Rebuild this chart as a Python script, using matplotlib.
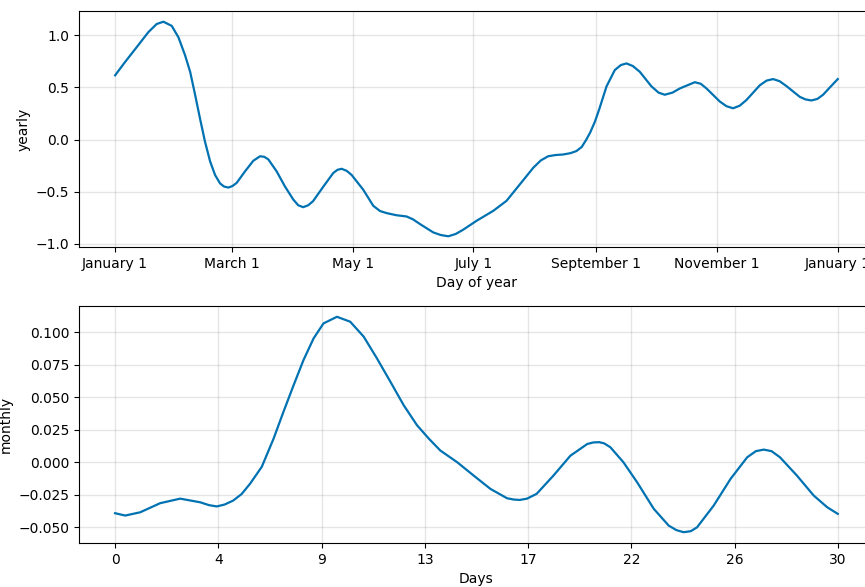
import numpy as np
import pandas as pd
import matplotlib
matplotlib.use('Agg')
import matplotlib.pyplot as plt
from matplotlib.dates import MonthLocator, num2date
from matplotlib.ticker import FuncFormatter


# yearly seasonality: day offset from 2017-01-01, component value
yearly_day = [0, 5, 10.9, 16.8, 21, 24.4, 28.6, 32, 35.3, 37.9, 40.4, 42.9,
              45.4, 48, 50.5, 53, 55, 57.2, 59.3, 61.4, 65.6, 69.8, 73.2,
              75.3, 77.4, 81.6, 85.8, 90, 92.5, 95, 97.5, 100, 105.2, 110.2,
              112.3, 114.4, 117, 119.5, 125.3, 130.4, 133.8, 137.2, 142,
              147.2, 150.5, 154, 160.7, 164.5, 168.3, 172, 175.8, 182.6, 191,
              197.7, 204.4, 211.2, 215, 218.7, 222.5, 226.3, 230, 233, 235.7,
              238, 240, 242.3, 244.5, 248.2, 252.4, 255.5, 258.3, 261.5, 265,
              270.9, 274.5, 277.6, 281.5, 285.2, 292.8, 295.8, 298.7, 305.4,
              308.8, 312.1, 315.5, 318.9, 325.6, 329, 332.3, 335.6, 339,
              345.8, 348.7, 351.7, 354.7, 357.6, 361, 365]
yearly_val = [0.616, 0.743, 0.886, 1.03, 1.108, 1.13, 1.09, 0.98, 0.81, 0.65,
              0.43, 0.20, -0.02, -0.21, -0.34, -0.42, -0.45, -0.46, -0.445,
              -0.415, -0.305, -0.203, -0.16, -0.165, -0.19, -0.305, -0.45,
              -0.575, -0.63, -0.648, -0.63, -0.59, -0.45, -0.32, -0.29, -0.28,
              -0.30, -0.34, -0.48, -0.635, -0.685, -0.705, -0.725, -0.737,
              -0.765, -0.81, -0.89, -0.915, -0.927, -0.905, -0.864, -0.778,
              -0.683, -0.587, -0.43, -0.27, -0.2, -0.16, -0.148, -0.143,
              -0.13, -0.11, -0.07, 0.0, 0.07, 0.17, 0.29, 0.51, 0.667, 0.715,
              0.73, 0.705, 0.65, 0.51, 0.45, 0.43, 0.45, 0.49, 0.55, 0.535,
              0.49, 0.365, 0.32, 0.30, 0.325, 0.38, 0.52, 0.565, 0.58, 0.56,
              0.514, 0.41, 0.385, 0.375, 0.39, 0.43, 0.5, 0.58]

# monthly seasonality: day of period, component value
monthly_day = [0, 0.42, 1.04, 1.87, 2.7, 3.53, 3.9, 4.22, 4.55, 4.9, 5.25,
               5.6, 6.09, 6.58, 6.99, 7.41, 7.82, 8.24, 8.65, 9.21, 9.76,
               10.32, 10.87, 11.43, 11.98, 12.53, 13.02, 13.5, 14.2, 14.88,
               15.58, 16.27, 16.55, 16.8, 17.1, 17.5, 18.2, 18.9, 19.6, 19.85,
               20.1, 20.3, 20.56, 21.1, 21.67, 22.36, 22.98, 23.3, 23.6, 23.9,
               24.16, 24.85, 25.55, 26.24, 26.6, 26.93, 27.25, 27.6, 28.3,
               29.0, 29.56, 30]
monthly_val = [-0.0392, -0.041, -0.0385, -0.0315, -0.028, -0.0308, -0.033,
               -0.034, -0.0325, -0.0295, -0.0245, -0.0166, -0.0035, 0.0182,
               0.0388, 0.0592, 0.0785, 0.0952, 0.1067, 0.1118, 0.108, 0.0965,
               0.0798, 0.0618, 0.0438, 0.0285, 0.0182, 0.009, 0.0, -0.0102,
               -0.0205, -0.0277, -0.0287, -0.029, -0.028, -0.0243, -0.0102,
               0.005, 0.014, 0.0152, 0.0154, 0.0145, 0.0115, 0.0, -0.0154,
               -0.0358, -0.0487, -0.0522, -0.0538, -0.053, -0.05, -0.0333,
               -0.0128, 0.0038, 0.0085, 0.0097, 0.0085, 0.0038, -0.0102,
               -0.0256, -0.0346, -0.0397]
monthly_ticklabels = ['0', '4', '9', '13', '17', '22', '26', '30']

line_color = '#0072B2'

fig = plt.figure(figsize=(8.65, 5.87), dpi=100, facecolor='w')
ax1 = fig.add_axes([0.0913, 0.5792, 0.919, 0.4021])
ax2 = fig.add_axes([0.0913, 0.0750, 0.919, 0.4037])

dates = pd.Timestamp('2017-01-01') + pd.to_timedelta(yearly_day, unit='D')
ax1.plot(dates.to_pydatetime(), yearly_val, ls='-', c=line_color, lw=1.6)
ax1.grid(True, which='major', c='gray', ls='-', lw=1, alpha=0.2)
ax1.xaxis.set_major_locator(MonthLocator(range(1, 13), bymonthday=1, interval=2))
ax1.xaxis.set_major_formatter(FuncFormatter(
    lambda x, pos=None: '{dt:%B} {dt.day}'.format(dt=num2date(x))))
ax1.set_xlabel('Day of year')
ax1.set_ylabel('yearly')

ax2.plot(monthly_day, monthly_val, ls='-', c=line_color, lw=1.6)
ax2.grid(True, which='major', c='gray', ls='-', lw=1, alpha=0.2)
ax2.set_xticks(np.linspace(0, 30, len(monthly_ticklabels)))
ax2.set_xticklabels(monthly_ticklabels)
ax2.set_xlabel('Days')
ax2.set_ylabel('monthly')

fig.savefig('out.png', dpi=100)
